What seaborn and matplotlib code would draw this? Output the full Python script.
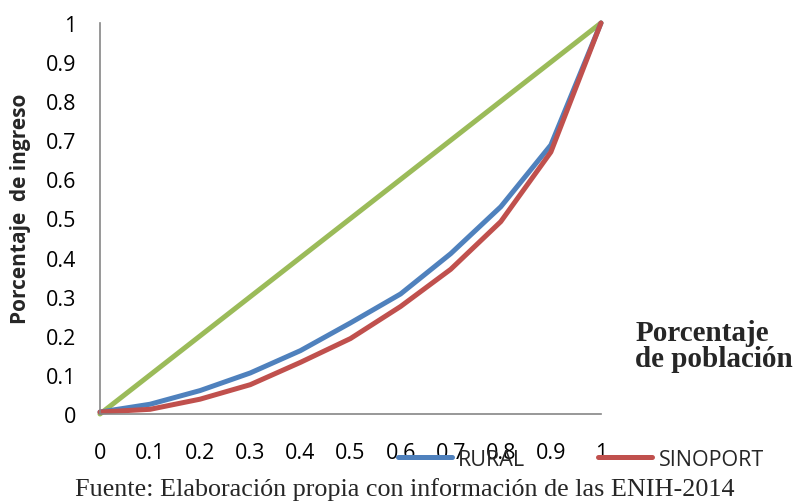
import matplotlib
matplotlib.use("Agg")
import matplotlib.pyplot as plt
import seaborn as sns
import pandas as pd

poblacion = [0, 0.1, 0.2, 0.3, 0.4, 0.5, 0.6, 0.7, 0.8, 0.9, 1.0]
igualdad = [0, 0.1, 0.2, 0.3, 0.4, 0.5, 0.6, 0.7, 0.8, 0.9, 1.0]
rural = [0.005, 0.025, 0.06, 0.105, 0.162, 0.233, 0.307, 0.41, 0.53, 0.688, 1.0]
sinoport = [0.005, 0.012, 0.038, 0.075, 0.132, 0.193, 0.275, 0.37, 0.492, 0.67, 1.0]
tick_vals = [0, 0.1, 0.2, 0.3, 0.4, 0.5, 0.6, 0.7, 0.8, 0.9, 1.0]
tick_labels = ["0", "0.1", "0.2", "0.3", "0.4", "0.5", "0.6", "0.7", "0.8", "0.9", "1"]

sns.set_style("white")
plt.rcParams["font.family"] = ["Open Sans", "DejaVu Sans"]

df = pd.DataFrame({"x": poblacion, "igualdad": igualdad, "RURAL": rural, "SINOPORT": sinoport})

fig = plt.figure(figsize=(7.98, 5.02), dpi=100)
ax = fig.add_axes([0.1253, 0.1733, 0.6278, 0.7789])

lw = 3.6
sns.lineplot(data=df, x="x", y="igualdad", color="#9BBB59", linewidth=lw, ax=ax, legend=False)
sns.lineplot(data=df, x="x", y="RURAL", color="#4F81BD", linewidth=lw, ax=ax, legend=False)
sns.lineplot(data=df, x="x", y="SINOPORT", color="#C0504D", linewidth=lw, ax=ax, legend=False)
for ln in ax.lines:
    ln.set_clip_on(False)
    ln.set_solid_joinstyle("round")

ax.set_xlim(0, 1)
ax.set_ylim(0, 1)
ax.set_xticks(tick_vals)
ax.set_xticklabels(tick_labels)
ax.set_yticks(tick_vals)
ax.set_yticklabels(tick_labels)
ax.tick_params(axis="both", length=0, labelsize=15.5, colors="#000000")
ax.tick_params(axis="x", pad=20)
ax.tick_params(axis="y", pad=17)
ax.set_xlabel("")
ax.set_ylabel("")
for s in ["top", "right"]:
    ax.spines[s].set_visible(False)
for s in ["left", "bottom"]:
    ax.spines[s].set_color("#868686")
    ax.spines[s].set_linewidth(1.2)

fig.text(0.026, 0.585, "Porcentaje  de ingreso", rotation=90, ha="center", va="center",
         fontsize=15, fontweight="bold")
fig.text(0.796, 0.31, "Porcentaje\nde población", ha="left", va="center",
         fontsize=21, fontweight="bold", family="Liberation Serif", linespacing=0.98)
fig.text(0.507, 0.024, "Fuente: Elaboración propia con información de las ENIH-2014",
         ha="center", va="center", fontsize=18.8, family="Liberation Serif")

handles = [ax.lines[1], ax.lines[2]]
fig.legend(handles, ["RURAL", "SINOPORT"], loc="center", bbox_to_anchor=(0.728, 0.083),
           ncol=2, frameon=False, fontsize=15.5, handlelength=2.5, handletextpad=0.3,
           columnspacing=3.4)

fig.savefig("out.png", dpi=100)
